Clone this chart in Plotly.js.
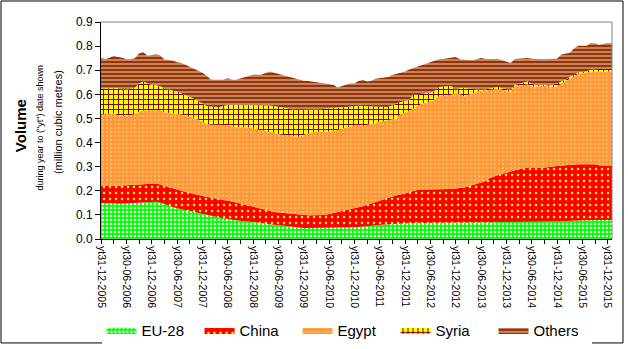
<!DOCTYPE html>
<html>
<head>
<meta charset="utf-8">
<script src="https://cdn.plot.ly/plotly-3.0.1.min.js"></script>
<style>html,body{margin:0;padding:0;background:#fff;}#chart{width:628px;height:349px;}</style>
</head>
<body>
<div id="chart"></div>
<script>
// Monthly values (million cubic metres), 31-12-2005 onward
var eu28 = [.149,.148,.148,.147,.146,.146,.147,.148,.150,.152,.153,.155,.156,.155,.151,.144,.138,.133,.128,.124,.119,.114,.110,.106,.102,.098,.094,.092,.089,.086,.082,.080,.078,.076,.075,.074,.073,.070,.067,.064,.061,.059,.057,.054,.052,.050,.048,.047,.046,.046,.046,.046,.046,.046,.046,.047,.048,.049,.049,.049,.049,.050,.051,.053,.055,.057,.058,.060,.061,.062,.063,.065,.066,.067,.068,.067,.066,.066,.067,.067,.066,.066,.066,.066,.066,.066,.066,.067,.067,.066,.066,.067,.068,.069,.070,.070,.071,.072,.073,.073,.073,.073,.073,.073,.073,.073,.073,.073,.073,.074,.074,.075,.076,.077,.078,.079,.080,.080,.079,.079,.079,.079];
var china = [.071,.071,.072,.073,.075,.076,.077,.078,.078,.077,.077,.076,.075,.075,.075,.076,.077,.077,.077,.076,.076,.077,.077,.076,.076,.077,.077,.076,.076,.076,.078,.076,.072,.071,.069,.066,.062,.060,.059,.057,.056,.053,.053,.053,.053,.053,.053,.052,.052,.052,.052,.052,.053,.054,.058,.061,.063,.065,.069,.073,.077,.080,.085,.089,.093,.096,.100,.104,.109,.114,.118,.120,.124,.127,.131,.137,.139,.139,.138,.138,.139,.139,.140,.141,.143,.145,.147,.151,.157,.163,.168,.173,.184,.191,.195,.200,.203,.208,.212,.217,.221,.224,.224,.223,.222,.223,.226,.229,.231,.231,.232,.233,.233,.233,.232,.231,.230,.230,.227,.224,.224,.224];
var egypt = [.295,.298,.300,.302,.292,.288,.288,.289,.288,.299,.303,.303,.304,.305,.309,.306,.309,.312,.314,.316,.317,.317,.315,.314,.308,.302,.303,.305,.308,.312,.313,.312,.313,.316,.319,.323,.323,.325,.326,.327,.327,.329,.325,.324,.326,.328,.324,.325,.334,.340,.343,.347,.346,.345,.342,.341,.341,.342,.345,.344,.343,.344,.333,.330,.330,.330,.329,.328,.324,.321,.319,.336,.335,.338,.341,.348,.358,.361,.365,.375,.386,.389,.391,.391,.399,.389,.378,.380,.381,.381,.381,.377,.366,.360,.357,.349,.341,.333,.350,.346,.344,.345,.335,.336,.340,.340,.334,.330,.328,.340,.349,.359,.369,.375,.378,.381,.383,.385,.389,.392,.392,.392];
var syria = [.108,.107,.105,.104,.113,.106,.108,.109,.110,.117,.120,.112,.105,.103,.100,.097,.096,.094,.093,.089,.086,.083,.080,.076,.076,.075,.076,.075,.074,.078,.083,.088,.093,.093,.093,.093,.098,.101,.104,.107,.110,.111,.113,.114,.111,.107,.110,.111,.103,.097,.095,.092,.093,.095,.096,.094,.093,.091,.086,.084,.083,.079,.083,.080,.073,.067,.062,.056,.053,.058,.063,.047,.047,.045,.058,.048,.040,.040,.038,.035,.039,.039,.038,.037,.007,.026,.035,.026,.015,.008,.003,.003,.006,.008,.008,.006,.005,.005,.005,.009,.012,.011,.013,.006,.003,.004,.003,.008,.013,.008,.005,.005,.005,.006,.005,.004,.010,.010,.010,.010,.010,.010];
var others = [.128,.121,.127,.134,.129,.136,.125,.121,.124,.124,.123,.114,.123,.127,.127,.121,.122,.124,.121,.125,.125,.124,.123,.126,.128,.125,.112,.112,.113,.108,.111,.104,.104,.109,.116,.120,.125,.125,.125,.133,.141,.138,.137,.135,.135,.134,.132,.125,.121,.120,.117,.113,.109,.107,.103,.097,.083,.088,.091,.095,.093,.102,.108,.101,.105,.115,.118,.122,.125,.125,.121,.120,.123,.126,.111,.115,.117,.120,.127,.126,.115,.114,.115,.118,.140,.119,.119,.118,.121,.127,.133,.127,.123,.119,.117,.116,.115,.112,.107,.104,.100,.098,.103,.108,.107,.105,.111,.107,.103,.112,.110,.100,.107,.111,.109,.107,.110,.107,.101,.105,.108,.106];
var tickLabels = ["yt31-12-2005","yt30-06-2006","yt31-12-2006","yt30-06-2007","yt31-12-2007","yt30-06-2008","yt31-12-2008","yt30-06-2009","yt31-12-2009","yt30-06-2010","yt31-12-2010","yt30-06-2011","yt31-12-2011","yt30-06-2012","yt31-12-2012","yt30-06-2013","yt31-12-2013","yt30-06-2014","yt31-12-2014","yt30-06-2015","yt31-12-2015"];
var seriesNames = ["EU-28","China","Egypt","Syria","Others"];

var months = eu28.map(function(_, i){ return i; });
var tickvals = [], ticktext = [];
for (var k = 0; k <= 40; k++) { tickvals.push(k*3); ticktext.push(k % 2 === 0 ? tickLabels[k/2] : ""); }

var FONT = "Liberation Sans, Arial, sans-serif";
var patterns = [
  {shape: ".", bgcolor: "#00ff00", fgcolor: "#ffffff", size: 4, solidity: 0.32},
  {shape: ".", bgcolor: "#ff0000", fgcolor: "#ffff00", size: 6, solidity: 0.12},
  {shape: ".", bgcolor: "#ff9933", fgcolor: "#ffc08a", size: 4, solidity: 0.2},
  {shape: "+", bgcolor: "#ffff00", fgcolor: "#800000", size: 5, solidity: 0.35},
  {shape: "-", bgcolor: "#993300", fgcolor: "#ffffff", size: 4, solidity: 0.2}
];
var colors = ["#00ff00","#ff0000","#ff9933","#ffff00","#993300"];
var values = [eu28, china, egypt, syria, others];

var traces = values.map(function(v, i){
  return {
    x: months, y: v, name: seriesNames[i], type: "scatter", mode: "lines",
    stackgroup: "one", line: {width: 0, color: colors[i]},
    fillcolor: colors[i], fillpattern: patterns[i], hoverinfo: "skip"
  };
});

var layout = {
  width: 628, height: 349,
  margin: {l: 101, r: 16, t: 22, b: 110, autoexpand: false},
  paper_bgcolor: "#ffffff", plot_bgcolor: "#ffffff",
  font: {family: FONT, color: "#000"},
  showlegend: true,
  legend: {orientation: "h", x: 0.001, xanchor: "left", y: -0.42, yanchor: "middle",
           font: {family: FONT, size: 15, color: "#000"}, traceorder: "normal",
           entrywidth: 53, entrywidthmode: "pixels", itemwidth: 30},
  xaxis: {range: [0, 121], tickmode: "array", tickvals: tickvals, ticktext: ticktext,
          tickangle: 90, ticks: "outside", ticklen: 4, tickcolor: "#000", automargin: false,
          showline: true, linecolor: "#000", linewidth: 1, showgrid: false, zeroline: false,
          tickfont: {family: FONT, size: 10.5, color: "#000"}, fixedrange: true},
  yaxis: {range: [0, 0.9], dtick: 0.1, tick0: 0, tickformat: ".1f", ticks: "outside", ticklen: 5,
          tickcolor: "#000", showline: true, linecolor: "#000", linewidth: 1, showgrid: false, automargin: false,
          zeroline: false, tickfont: {family: FONT, size: 12, color: "#000"}, fixedrange: true},
  annotations: [
    {text: "<b>Volume</b>", xref: "paper", yref: "paper", x: -0.1585, y: 0.52, xanchor: "center", yanchor: "middle",
     textangle: -90, showarrow: false, font: {family: FONT, size: 15, color: "#000"}},
    {text: "during year to (\"yt\") date shown", xref: "paper", yref: "paper", x: -0.119, y: 0.51, xanchor: "center", yanchor: "middle",
     textangle: -90, showarrow: false, font: {family: FONT, size: 9, color: "#000"}},
    {text: "(million cubic metres)", xref: "paper", yref: "paper", x: -0.084, y: 0.539, xanchor: "center", yanchor: "middle",
     textangle: -90, showarrow: false, font: {family: FONT, size: 11, color: "#000"}}
  ],
  shapes: [
    {type: "line", xref: "paper", yref: "paper", x0: 0, x1: 1, y0: 1, y1: 1, line: {color: "#808080", width: 1}},
    {type: "line", xref: "paper", yref: "paper", x0: 1, x1: 1, y0: 0, y1: 1, line: {color: "#808080", width: 1}},
    {type: "rect", xref: "paper", yref: "paper", x0: -0.1957, x1: 1.0215, y0: -0.479, y1: 1.0968, line: {color: "#000", width: 1}}
  ]
};
Plotly.newPlot("chart", traces, layout, {staticPlot: true, displayModeBar: false});
</script>
</body>
</html>
